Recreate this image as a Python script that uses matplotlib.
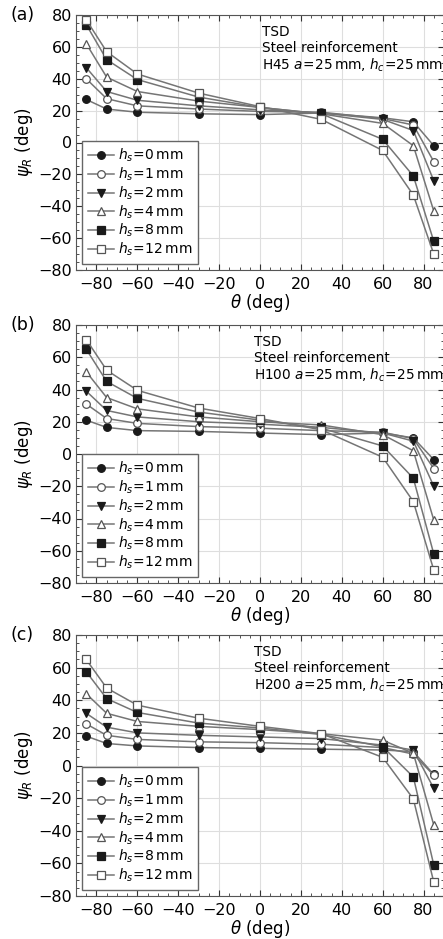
import matplotlib
matplotlib.use("Agg")
import matplotlib.pyplot as plt
from matplotlib.ticker import MultipleLocator

plt.rcParams["font.family"] = ["DejaVu Sans"]
plt.rcParams["mathtext.fontset"] = "dejavusans"

# Data
theta = [-85, -75, -60, -30, 0, 30, 60, 75, 85]
hs_labels = ["0", "1", "2", "4", "8", "12"]
cases = ["H45", "H100", "H200"]
panel_tags = ["(a)", "(b)", "(c)"]

psi_h45 = [
    [27, 21, 19, 18, 17.5, 18.5, 15.5, 13, -2],
    [40, 27.5, 23, 21, 19.5, 19, 15, 11, -12],
    [47, 32, 26.5, 23, 20.5, 18.5, 14.5, 7.5, -24],
    [62, 41, 32, 26, 22, 18, 12, -2, -43],
    [74, 52, 39.5, 28.5, 22, 18, 2, -21, -62],
    [77, 57, 43, 31, 22.5, 14.5, -5, -33, -70],
]
psi_h100 = [
    [21, 16.5, 14.5, 14, 13, 12, 13, 10, -3.5],
    [31, 22, 19, 17, 16, 14.5, 13.5, 9.5, -9],
    [39, 27, 23, 20, 18.5, 16.5, 13, 8, -20],
    [51, 35, 28, 23, 20, 18, 12, 2, -41],
    [65, 45, 34.5, 26, 21, 16, 5, -15, -62],
    [71, 52, 39.5, 28.5, 22, 15, -2, -29.5, -72],
]
psi_h200 = [
    [18, 13.5, 12, 11, 10.5, 10, 9.5, 8.5, -5.5],
    [25.5, 18.5, 16, 14.5, 14, 13, 11, 7, -6],
    [32, 23.5, 20, 18.5, 17.5, 16.5, 12.5, 9.5, -14],
    [44, 32, 27, 24, 22, 19.5, 15.5, 7.5, -36.5],
    [57.5, 41, 32.5, 26, 23, 19, 11.5, -7, -61],
    [65, 47.5, 37, 29, 24, 19.5, 5, -20.5, -71.5],
]
all_psi = [psi_h45, psi_h100, psi_h200]

# marker style per h_s: (marker, filled)
styles = [("o", True), ("o", False), ("v", True), ("^", False), ("s", True), ("s", False)]

fig = plt.figure(figsize=(4.43, 9.39), dpi=100)

W, H = 443, 939
ax_left, ax_right = 76, 444
tops = [15, 325, 635]
bottoms = [270, 583, 896]
text_x = [0.505, 0.485, 0.485]

for i in range(3):
    ax = fig.add_axes([ax_left / W, 1 - bottoms[i] / H,
                       (ax_right - ax_left) / W, (bottoms[i] - tops[i]) / H])
    for j, ys in enumerate(all_psi[i]):
        m, filled = styles[j]
        ax.plot(theta, ys, color="#757575", lw=1.1, marker=m, ms=5.5,
                mfc="#1a1a1a" if filled else "white",
                mec="#1a1a1a" if filled else "#555555", mew=0.9,
                label=r"$h_s\!=\!%s\,\mathrm{mm}$" % hs_labels[j], zorder=3)

    ax.set_xlim(-90, 90)
    ax.set_ylim(-80, 80)
    ax.xaxis.set_major_locator(MultipleLocator(20))
    ax.xaxis.set_minor_locator(MultipleLocator(5))
    ax.yaxis.set_major_locator(MultipleLocator(20))
    ax.yaxis.set_minor_locator(MultipleLocator(5))
    ax.tick_params(which="both", direction="in", top=True, right=True,
                   labelsize=11.5, colors="#333333", labelcolor="black")
    ax.tick_params(which="major", length=4, width=0.8)
    ax.tick_params(which="minor", length=2.5, width=0.6)
    ax.tick_params(axis="x", pad=5)
    ax.tick_params(axis="y", pad=3)
    ax.grid(True, which="major", color="#dedede", lw=0.8)
    ax.set_axisbelow(True)
    for sp in ax.spines.values():
        sp.set_color("#555555")
        sp.set_linewidth(0.8)

    ax.set_xlabel(r"$\theta$ (deg)", fontsize=12, labelpad=0)
    ax.set_ylabel(r"$\psi_R$ (deg)", fontsize=12, labelpad=2)

    ax.text(text_x[i], 0.96, "TSD\nSteel reinforcement\n"
            + cases[i] + r" $a\!=\!25\,$mm, $h_c\!=\!25\,$mm",
            transform=ax.transAxes, fontsize=9.8, va="top", ha="left",
            linespacing=1.15)

    fig.text(10 / W, 1 - tops[i] / H, panel_tags[i], fontsize=12.5,
             va="center", ha="left")

    leg = ax.legend(loc="lower left", fontsize=10, frameon=True,
                    fancybox=False, framealpha=1, edgecolor="#666666",
                    handlelength=1.9, handletextpad=0.3, labelspacing=0.1,
                    borderaxespad=0.45, borderpad=0.4)
    leg.get_frame().set_linewidth(1.0)

fig.savefig("out.png", dpi=100)
